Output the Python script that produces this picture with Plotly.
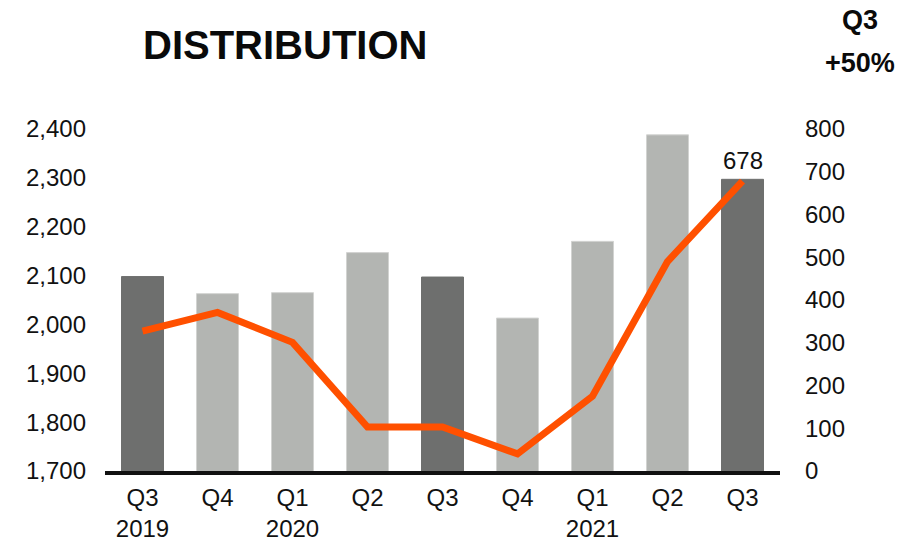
import plotly.graph_objects as go

# Quarterly distribution volumes (left axis) and growth line (right axis)
quarters = ["Q3 2019", "Q4 2019", "Q1 2020", "Q2 2020", "Q3 2020",
            "Q4 2020", "Q1 2021", "Q2 2021", "Q3 2021"]
tick_text = ["Q3<br>2019", "Q4", "Q1<br>2020", "Q2", "Q3",
             "Q4", "Q1<br>2021", "Q2", "Q3"]
bar_values = [2098, 2063, 2065, 2147, 2097, 2013, 2170, 2388, 2297]
line_values = [327, 371, 301, 103, 103, 40, 175, 490, 678]
highlight = [True, False, False, False, True, False, False, False, True]

left_ticks = [1700, 1800, 1900, 2000, 2100, 2200, 2300, 2400]
right_ticks = [0, 100, 200, 300, 400, 500, 600, 700, 800]

DARK = "#6e6f6e"
LIGHT = "#b3b5b2"
ORANGE = "#ff5000"
FONT = "Liberation Sans, Arial, sans-serif"

bar_colors = [DARK if h else LIGHT for h in highlight]
bar_lines = [DARK if h else "#d2d3d1" for h in highlight]

fig = go.Figure()
fig.add_trace(go.Bar(
    x=quarters, y=bar_values, base=0,
    marker=dict(color=bar_colors, line=dict(color=bar_lines, width=1)),
    yaxis="y", hoverinfo="x+y",
))
fig.add_trace(go.Scatter(
    x=quarters, y=line_values, yaxis="y2", mode="lines",
    line=dict(color=ORANGE, width=7),
))

# Value label on the latest quarter
fig.add_annotation(
    x=quarters[-1], y=line_values[-1], xref="x", yref="y2",
    text=str(line_values[-1]), showarrow=False, yanchor="bottom", yshift=5,
    bgcolor="white", font=dict(family=FONT, size=24, color="#111"),
)

fig.add_annotation(
    x=0.267, y=1.245, xref="paper", yref="paper", text="<b>DISTRIBUTION</b>",
    showarrow=False, font=dict(family=FONT, size=40, color="#0a0a0a"),
    xanchor="center", yanchor="middle",
)
fig.add_annotation(
    x=1.1185, y=1.319, xref="paper", yref="paper", text="<b>Q3</b>",
    showarrow=False, font=dict(family=FONT, size=27, color="#0a0a0a"),
    xanchor="center", yanchor="middle",
)
fig.add_annotation(
    x=1.1185, y=1.193, xref="paper", yref="paper", text="<b>+50%</b>",
    showarrow=False, font=dict(family=FONT, size=27, color="#0a0a0a"),
    xanchor="center", yanchor="middle",
)

fig.update_layout(
    width=903, height=542,
    margin=dict(l=105, r=123, t=129, b=71, autoexpand=False),
    paper_bgcolor="white", plot_bgcolor="white",
    showlegend=False, bargap=0.44,
    font=dict(family=FONT, size=24, color="#111"),
    xaxis=dict(
        type="category", tickvals=quarters, ticktext=tick_text,
        showline=True, linewidth=4, linecolor="#111", automargin=False,
        ticks="", ticklabelstandoff=2, showgrid=False,
        tickfont=dict(size=24, color="#111"),
    ),
    yaxis=dict(
        range=[1700, 2400], tickvals=left_ticks, automargin=False,
        ticktext=[f"{v:,}" for v in left_ticks],
        showgrid=False, zeroline=False, showline=False, ticks="",
        ticklabelstandoff=18, tickfont=dict(size=24, color="#111"),
    ),
    yaxis2=dict(
        range=[0, 800], tickvals=right_ticks, overlaying="y", side="right",
        showgrid=False, zeroline=False, showline=False, ticks="",
        automargin=False,
        ticklabelstandoff=24, tickfont=dict(size=24, color="#111"),
    ),
)

fig.write_html("out.html")
